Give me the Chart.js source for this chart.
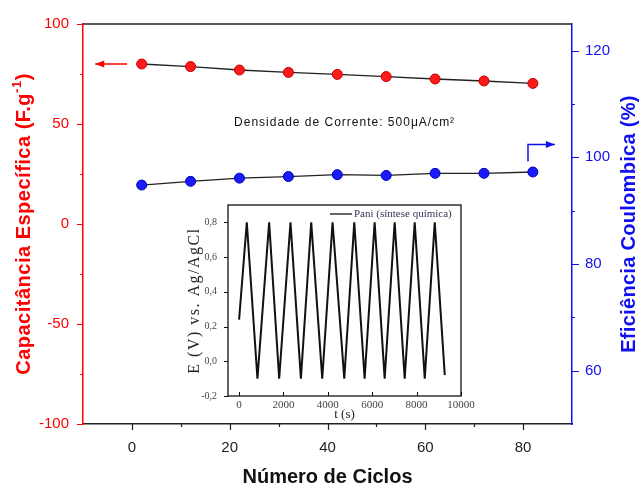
<!DOCTYPE html>
<html>
<head>
<meta charset="utf-8">
<script src="https://cdn.jsdelivr.net/npm/chart.js@4/dist/chart.umd.min.js"></script>
<style>
  body { margin: 0; background: #fff; }
  #wrap { position: relative; width: 639px; height: 485px; }
  #main { position: absolute; left: 0; top: 0; }
  #inset { position: absolute; left: 180px; top: 188px; }
</style>
</head>
<body>
<div id="wrap">
  <canvas id="main" width="639" height="485"></canvas>
  <canvas id="inset" width="300" height="237"></canvas>
</div>
<script>
// ciclos de carga/descarga
const ciclos = [2, 12, 22, 32, 42, 52, 62, 72, 82];
const capacitancia = [80, 78.7, 77, 75.8, 74.8, 73.7, 72.5, 71.5, 70.3];
const eficiencia = [94.8, 95.5, 96.1, 96.4, 96.75, 96.6, 97.0, 97.0, 97.25];

const xTicks = [0, 20, 40, 60, 80];
const xMinor = [10, 30, 50, 70];
const capTicks = [-100, -50, 0, 50, 100];
const capMinor = [-75, -25, 25, 75];
const efTicks = [60, 80, 100, 120];
const efMinor = [70, 90, 110];

// curva galvanostática (pontos de inversão)
const tempo = [0, 347, 827, 1354, 1806, 2316, 2785, 3250, 3747, 4212, 4740,
  5190, 5657, 6108, 6560, 7011, 7463, 7914, 8366, 8817, 9269];
const potencial = [0.24, 0.8, -0.1, 0.8, -0.1, 0.8, -0.1, 0.8, -0.1, 0.8, -0.1,
  0.8, -0.1, 0.8, -0.1, 0.8, -0.1, 0.8, -0.1, 0.8, -0.08];
const tTicks = [0, 2000, 4000, 6000, 8000, 10000];
const eTicks = [-0.2, 0, 0.2, 0.4, 0.6, 0.8];

const RED = '#ff0000';
const BLUE = '#1010f0';

function setTicks(values) {
  return s => { s.ticks = values.map(v => ({ value: v })); };
}

function drawTicks(ctx, scale, values, len, side, color) {
  ctx.save();
  ctx.strokeStyle = color;
  ctx.lineWidth = 1.2;
  ctx.beginPath();
  values.forEach(v => {
    const p = Math.round(scale.getPixelForValue(v)) + 0.5;
    if (scale.isHorizontal()) {
      ctx.moveTo(p, scale.top);
      ctx.lineTo(p, scale.top + side * len);
    } else {
      const x = scale.position === 'left' ? scale.right : scale.left;
      ctx.moveTo(x, p);
      ctx.lineTo(x + side * len, p);
    }
  });
  ctx.stroke();
  ctx.restore();
}

function arrow(ctx, pts, color) {
  ctx.save();
  ctx.strokeStyle = color;
  ctx.fillStyle = color;
  ctx.lineWidth = 1.5;
  ctx.beginPath();
  pts.forEach((p, i) => i ? ctx.lineTo(p[0], p[1]) : ctx.moveTo(p[0], p[1]));
  ctx.stroke();
  const [x1, y1] = pts[pts.length - 2];
  const [x2, y2] = pts[pts.length - 1];
  const a = Math.atan2(y2 - y1, x2 - x1);
  ctx.translate(x2, y2);
  ctx.rotate(a);
  ctx.beginPath();
  ctx.moveTo(0, 0);
  ctx.lineTo(-9, -3.5);
  ctx.lineTo(-9, 3.5);
  ctx.closePath();
  ctx.fill();
  ctx.restore();
}

const mainFrame = {
  id: 'mainFrame',
  afterDraw(chart) {
    const { ctx, chartArea: a, scales } = chart;
    const { x, yL, yR } = scales;

    // borda superior
    ctx.save();
    ctx.strokeStyle = '#222';
    ctx.lineWidth = 1.5;
    ctx.beginPath();
    ctx.moveTo(a.left, a.top);
    ctx.lineTo(a.right, a.top);
    ctx.stroke();
    ctx.restore();

    drawTicks(ctx, x, xTicks, 6, 1, '#222');
    drawTicks(ctx, x, xMinor, 3, 1, '#222');
    drawTicks(ctx, yL, capTicks, 6, -1, RED);
    drawTicks(ctx, yL, capMinor, 3, -1, RED);
    drawTicks(ctx, yR, efTicks, 7, 1, BLUE);
    drawTicks(ctx, yR, efMinor, 3, 1, BLUE);

    // setas indicando o eixo de cada série
    arrow(ctx, [[x.getPixelForValue(-1), yL.getPixelForValue(80)],
                [x.getPixelForValue(-7.5), yL.getPixelForValue(80)]], RED);
    arrow(ctx, [[x.getPixelForValue(81), yR.getPixelForValue(99.2)],
                [x.getPixelForValue(81), yR.getPixelForValue(102.4)],
                [x.getPixelForValue(86.5), yR.getPixelForValue(102.4)]], BLUE);

    // anotação
    ctx.save();
    ctx.font = '12px "Liberation Sans", Arial, sans-serif';
    ctx.letterSpacing = '1px';
    ctx.fillStyle = '#111';
    ctx.textAlign = 'center';
    ctx.textBaseline = 'middle';
    ctx.fillText('Densidade de Corrente: 500μA/cm²', x.getPixelForValue(43.5), yL.getPixelForValue(50.5));
    ctx.restore();

    // título do eixo esquerdo, com sobrescrito
    ctx.save();
    ctx.translate(24, (a.top + a.bottom) / 2);
    ctx.rotate(-Math.PI / 2);
    ctx.fillStyle = RED;
    ctx.textBaseline = 'middle';
    ctx.letterSpacing = '0.5px';
    const big = 'bold 20px "Liberation Sans", Arial, sans-serif';
    const small = 'bold 13px "Liberation Sans", Arial, sans-serif';
    const parts = [['Capacitância Específica (F.g', big, 0], ['-1', small, -7], [')', big, 0]];
    let total = 0;
    parts.forEach(p => { ctx.font = p[1]; total += ctx.measureText(p[0]).width; });
    let cx = -total / 2;
    parts.forEach(p => {
      ctx.font = p[1];
      ctx.fillText(p[0], cx, p[2]);
      cx += ctx.measureText(p[0]).width;
    });
    ctx.restore();

    // título do eixo direito
    ctx.save();
    ctx.translate(629, (a.top + a.bottom) / 2);
    ctx.rotate(-Math.PI / 2);
    ctx.fillStyle = BLUE;
    ctx.font = big;
    ctx.letterSpacing = '0.3px';
    ctx.textAlign = 'center';
    ctx.textBaseline = 'middle';
    ctx.fillText('Eficiência Coulombica (%)', 0, 0);
    ctx.restore();
  }
};

new Chart(document.getElementById('main'), {
  type: 'line',
  data: {
    datasets: [
      {
        label: 'Capacitância Específica',
        data: ciclos.map((c, i) => ({ x: c, y: capacitancia[i] })),
        yAxisID: 'yL',
        borderColor: '#222',
        borderWidth: 1.3,
        pointRadius: 5,
        pointBackgroundColor: '#ff1a1a',
        pointBorderColor: '#c00000',
        pointBorderWidth: 1
      },
      {
        label: 'Eficiência Coulombica',
        data: ciclos.map((c, i) => ({ x: c, y: eficiencia[i] })),
        yAxisID: 'yR',
        borderColor: '#222',
        borderWidth: 1.3,
        pointRadius: 5,
        pointBackgroundColor: '#1a1aff',
        pointBorderColor: '#0000b0',
        pointBorderWidth: 1
      }
    ]
  },
  options: {
    responsive: false,
    animation: false,
    devicePixelRatio: 1,
    layout: { padding: { top: 24, left: 0, right: 0, bottom: 0 } },
    plugins: { legend: { display: false }, tooltip: { enabled: false } },
    scales: {
      x: {
        type: 'linear',
        position: 'bottom',
        min: -10,
        max: 90,
        afterFit: s => { s.height = 61; },
        afterBuildTicks: setTicks(xTicks),
        grid: { display: false, drawTicks: false },
        border: { color: '#222', width: 1.5 },
        ticks: { padding: 15, color: '#222', font: { family: '"Liberation Sans", Arial', size: 15 } },
        title: {
          display: true,
          text: 'Número de Ciclos',
          color: '#111',
          font: { family: '"Liberation Sans", Arial', size: 20, weight: 'bold', lineHeight: 0.8 },
          padding: { top: 0, bottom: 0 }
        }
      },
      yL: {
        type: 'linear',
        position: 'left',
        min: -100,
        max: 100,
        afterFit: s => { s.width = 83; },
        afterBuildTicks: setTicks(capTicks),
        grid: { display: false, drawTicks: false },
        border: { color: RED, width: 1.5 },
        ticks: { padding: 14, color: RED, font: { family: '"Liberation Sans", Arial', size: 15 } }
      },
      yR: {
        type: 'linear',
        position: 'right',
        min: 50,
        max: 125,
        afterFit: s => { s.width = 67; },
        afterBuildTicks: setTicks(efTicks),
        grid: { display: false, drawTicks: false },
        border: { color: BLUE, width: 1.5 },
        ticks: { padding: 13, color: BLUE, font: { family: '"Liberation Sans", Arial', size: 15 } }
      }
    }
  },
  plugins: [mainFrame]
});

const insetFrame = {
  id: 'insetFrame',
  afterDraw(chart) {
    const { ctx, chartArea: a, scales } = chart;
    ctx.save();
    ctx.strokeStyle = '#111';
    ctx.lineWidth = 1.3;
    ctx.strokeRect(a.left, a.top, a.right - a.left, a.bottom - a.top);
    ctx.restore();

    // x: marcas para dentro; y: marcas para fora
    const sx = scales.x;
    ctx.save();
    ctx.strokeStyle = '#111';
    ctx.lineWidth = 1;
    ctx.beginPath();
    tTicks.forEach(v => {
      const p = Math.round(sx.getPixelForValue(v)) + 0.5;
      ctx.moveTo(p, a.bottom);
      ctx.lineTo(p, a.bottom - 4);
    });
    eTicks.forEach(v => {
      const p = Math.round(scales.y.getPixelForValue(v)) + 0.5;
      ctx.moveTo(a.left, p);
      ctx.lineTo(a.left - 4, p);
    });
    ctx.stroke();
    ctx.restore();

    // título do eixo y
    ctx.save();
    ctx.translate(15, (a.top + a.bottom) / 2);
    ctx.rotate(-Math.PI / 2);
    ctx.font = '16px "Liberation Serif", "Times New Roman", serif';
    ctx.letterSpacing = '1.5px';
    ctx.fillStyle = '#222';
    ctx.textAlign = 'center';
    ctx.textBaseline = 'middle';
    ctx.fillText('E (V) vs. Ag/AgCl', 0, 0);
    ctx.restore();

    // legenda
    const ds = chart.data.datasets[0];
    const ly = a.top + 9;
    const lx = a.right - 131;
    ctx.save();
    ctx.strokeStyle = ds.borderColor;
    ctx.lineWidth = 1.3;
    ctx.beginPath();
    ctx.moveTo(lx, ly);
    ctx.lineTo(lx + 22, ly);
    ctx.stroke();
    ctx.font = '11px "Liberation Serif", "Times New Roman", serif';
    ctx.fillStyle = '#33335a';
    ctx.textBaseline = 'middle';
    ctx.fillText(ds.label, lx + 24, ly);
    ctx.restore();
  }
};

new Chart(document.getElementById('inset'), {
  type: 'line',
  data: {
    datasets: [{
      label: 'Pani (síntese química)',
      data: tempo.map((t, i) => ({ x: t, y: potencial[i] })),
      borderColor: '#111',
      borderWidth: 2,
      pointRadius: 0,
      tension: 0
    }]
  },
  options: {
    responsive: false,
    animation: false,
    devicePixelRatio: 1,
    layout: { padding: { top: 8, right: 19, left: 0, bottom: 0 } },
    plugins: { legend: { display: false }, tooltip: { enabled: false } },
    scales: {
      x: {
        type: 'linear',
        min: -500,
        max: 10000,
        afterFit: s => { s.height = 29; },
        afterBuildTicks: setTicks(tTicks),
        grid: { display: false, drawTicks: false },
        border: { display: false },
        ticks: {
          padding: 3,
          color: '#444',
          font: { family: '"Liberation Serif", "Times New Roman", serif', size: 11 },
          callback: v => String(v)
        },
        title: {
          display: true,
          text: 't (s)',
          color: '#222',
          font: { family: '"Liberation Serif", "Times New Roman", serif', size: 13 },
          padding: { top: 0, bottom: 3 }
        }
      },
      y: {
        type: 'linear',
        min: -0.2,
        max: 0.9,
        afterFit: s => { s.width = 48; },
        afterBuildTicks: setTicks(eTicks),
        grid: { display: false, drawTicks: false },
        border: { display: false },
        ticks: {
          padding: 11,
          color: '#444',
          font: { family: '"Liberation Serif", "Times New Roman", serif', size: 10 },
          callback: v => v.toFixed(1).replace('.', ',')
        }
      }
    }
  },
  plugins: [insetFrame]
});
</script>
</body>
</html>
